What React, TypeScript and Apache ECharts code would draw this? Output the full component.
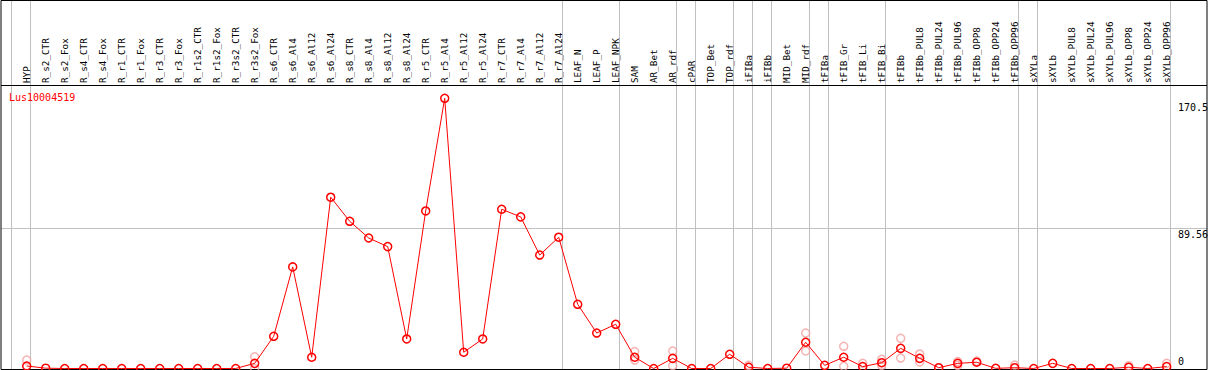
import React, { useEffect, useRef } from "react";
import * as echarts from "echarts";

const categories = [
  "HYP", "R_s2_CTR", "R_s2_Fox", "R_s4_CTR", "R_s4_Fox", "R_r1_CTR", "R_r1_Fox", "R_r3_CTR", "R_r3_Fox",
  "R_r1s2_CTR", "R_r1s2_Fox", "R_r3s2_CTR", "R_r3s2_Fox", "R_s6_CTR", "R_s6_Al4", "R_s6_Al12", "R_s6_Al24",
  "R_s8_CTR", "R_s8_Al4", "R_s8_Al12", "R_s8_Al24", "R_r5_CTR", "R_r5_Al4", "R_r5_Al12", "R_r5_Al24",
  "R_r7_CTR", "R_r7_Al4", "R_r7_Al12", "R_r7_Al24", "LEAF_N", "LEAF_P", "LEAF_NPK", "SAM", "AR_Bet", "AR_rdf",
  "cPAR", "TOP_Bet", "TOP_rdf", "iFIBa", "iFIBb", "MID_Bet", "MID_rdf", "tFIBa", "tFIB_Gr", "tFIB_Li", "tFIB_Bi",
  "tFIBb", "tFIBb_PUL8", "tFIBb_PUL24", "tFIBb_PUL96", "tFIBb_OPP8", "tFIBb_OPP24", "tFIBb_OPP96",
  "sXYLa", "sXYLb", "sXYLb_PUL8", "sXYLb_PUL24", "sXYLb_PUL96", "sXYLb_OPP8", "sXYLb_OPP24", "sXYLb_OPP96",
];

const meanValues = [
  1.6, 0.2, 0, 0, 0, 0, 0, 0, 0,
  0, 0, 0, 3.3, 20.6, 65, 7.2, 109.6,
  94.2, 83.5, 78, 18.9, 100.8, 172.9, 10.4, 18.9,
  101.9, 97, 72.6, 84, 41.1, 22.7, 28.3, 7.2, 0, 6.5,
  0, 0, 9.1, 0.8, 0, 0.2, 16.8, 2.0, 7.2, 1.2, 3.7,
  12.9, 6.5, 0.5, 3.3, 4.0, 0.1, 0.5,
  0, 3.3, 0, 0, 0, 0.8, 0, 1.2,
];

const replicates: [string, number][] = [
  ["HYP", 5.4],
  ["R_r3s2_Fox", 7.5], ["R_r3s2_Fox", 0],
  ["SAM", 10.8], ["SAM", 5.4],
  ["AR_rdf", 11.2], ["AR_rdf", 1.8],
  ["iFIBa", 2.0],
  ["MID_rdf", 22.7], ["MID_rdf", 11.2],
  ["tFIB_Gr", 14.2], ["tFIB_Gr", 1.4],
  ["tFIB_Li", 3.3],
  ["tFIB_Bi", 5.9], ["tFIB_Bi", 2.0],
  ["tFIBb", 19.3], ["tFIBb", 6.7],
  ["tFIBb_PUL8", 9.3], ["tFIBb_PUL8", 4.2],
  ["tFIBb_PUL96", 4.4], ["tFIBb_PUL96", 2.0],
  ["tFIBb_OPP8", 4.7],
  ["tFIBb_OPP96", 2.2],
  ["sXYLb_OPP8", 1.8],
  ["sXYLb_OPP96", 3.3],
];

const yLabelValues = [170.5, 89.56, 0];
const gridLineValues = [89.56];
const separatorAfter = [-1, 0, 28, 31, 34, 35, 37, 38, 39, 41, 42, 45, 52, 53, 60];
const geneName = "Lus10004519";

const MONO = "'DejaVu Sans Mono', 'Liberation Mono', monospace";

export default function App() {
  const ref = useRef<HTMLDivElement>(null);
  useEffect(() => {
    if (!ref.current) return;
    const chart = echarts.init(ref.current, undefined, { renderer: "svg" });
    const option: any = {
      animation: false,
      title: {
        text: geneName,
        left: 4,
        top: 87,
        textStyle: { color: "#ff0000", fontSize: 10, fontWeight: "normal", fontFamily: MONO },
      },
      grid: { left: 7.7, right: 4.3, top: 85, bottom: 1.5, containLabel: false },
      xAxis: {
        type: "value",
        position: "top",
        min: -1,
        max: 62,
        interval: 1,
        axisLine: { show: false },
        axisTick: { show: false },
        splitLine: { show: false },
        axisLabel: {
          rotate: 90,
          margin: 2,
          fontSize: 9.3,
          fontFamily: MONO,
          color: "#000",
          formatter: (v: number) => {
            const i = Math.round(v);
            return categories[i] !== undefined ? categories[i] : "";
          },
        },
      },
      yAxis: {
        type: "value",
        min: 0,
        max: 181.4,
        show: false,
      },
      series: [
        {
          type: "scatter",
          z: 1,
          symbol: "circle",
          symbolSize: 8,
          itemStyle: { color: "rgba(0,0,0,0)", borderColor: "#f4a0a0", borderWidth: 1.5 },
          data: replicates.map(([c, v]) => [categories.indexOf(c), v]),
        },
        {
          type: "line",
          z: 3,
          symbol: "circle",
          symbolSize: 8,
          showAllSymbol: true,
          lineStyle: { color: "#ff0000", width: 1 },
          itemStyle: { color: "rgba(0,0,0,0)", borderColor: "#ff0000", borderWidth: 1.5 },
          data: meanValues.map((v, i) => [i, v]),
        },
      ],
    };
    chart.setOption(option);

    const px = (x: number) => chart.convertToPixel({ xAxisIndex: 0 }, x) as number;
    const py = (y: number) => chart.convertToPixel({ yAxisIndex: 0 }, y) as number;
    const crisp = (v: number) => Math.floor(v) + 0.5;

    const graphics: any[] = [];
    separatorAfter.forEach((s) => {
      const x = crisp(px(s + 0.19));
      graphics.push({
        type: "line",
        z: 0,
        shape: { x1: x, y1: 0, x2: x, y2: 369 },
        style: { stroke: "#c0c0c0", lineWidth: 1 },
      });
    });
    gridLineValues.forEach((g) => {
      const y = crisp(py(g));
      graphics.push({
        type: "line",
        z: 0,
        shape: { x1: 1, y1: y, x2: 1207, y2: y },
        style: { stroke: "#c0c0c0", lineWidth: 1 },
      });
    });
    graphics.push({
      type: "rect",
      z: 0,
      shape: { x: 1, y: 0.5, width: 1206, height: 369 },
      style: { fill: "none", stroke: "#000", lineWidth: 1 },
    });
    graphics.push({
      type: "line",
      z: 0,
      shape: { x1: 1, y1: 85.5, x2: 1207, y2: 85.5 },
      style: { stroke: "#000", lineWidth: 1 },
    });
    yLabelValues.forEach((v) => {
      const y = py(v);
      const atBottom = v === 0;
      graphics.push({
        type: "text",
        z: 5,
        x: 1178,
        y: atBottom ? y - 2 : y + 0.5,
        style: {
          text: String(v),
          fill: "#000",
          font: `10px ${MONO}`,
          textAlign: "left",
          textVerticalAlign: atBottom ? "bottom" : "top",
          verticalAlign: atBottom ? "bottom" : "top",
        },
      });
    });
    chart.setOption({ graphic: graphics });

    return () => chart.dispose();
  }, []);
  return (
    <div
      ref={ref}
      style={{ position: "absolute", left: 0, top: 0, width: 1209, height: 370, background: "#fff" }}
    />
  );
}
